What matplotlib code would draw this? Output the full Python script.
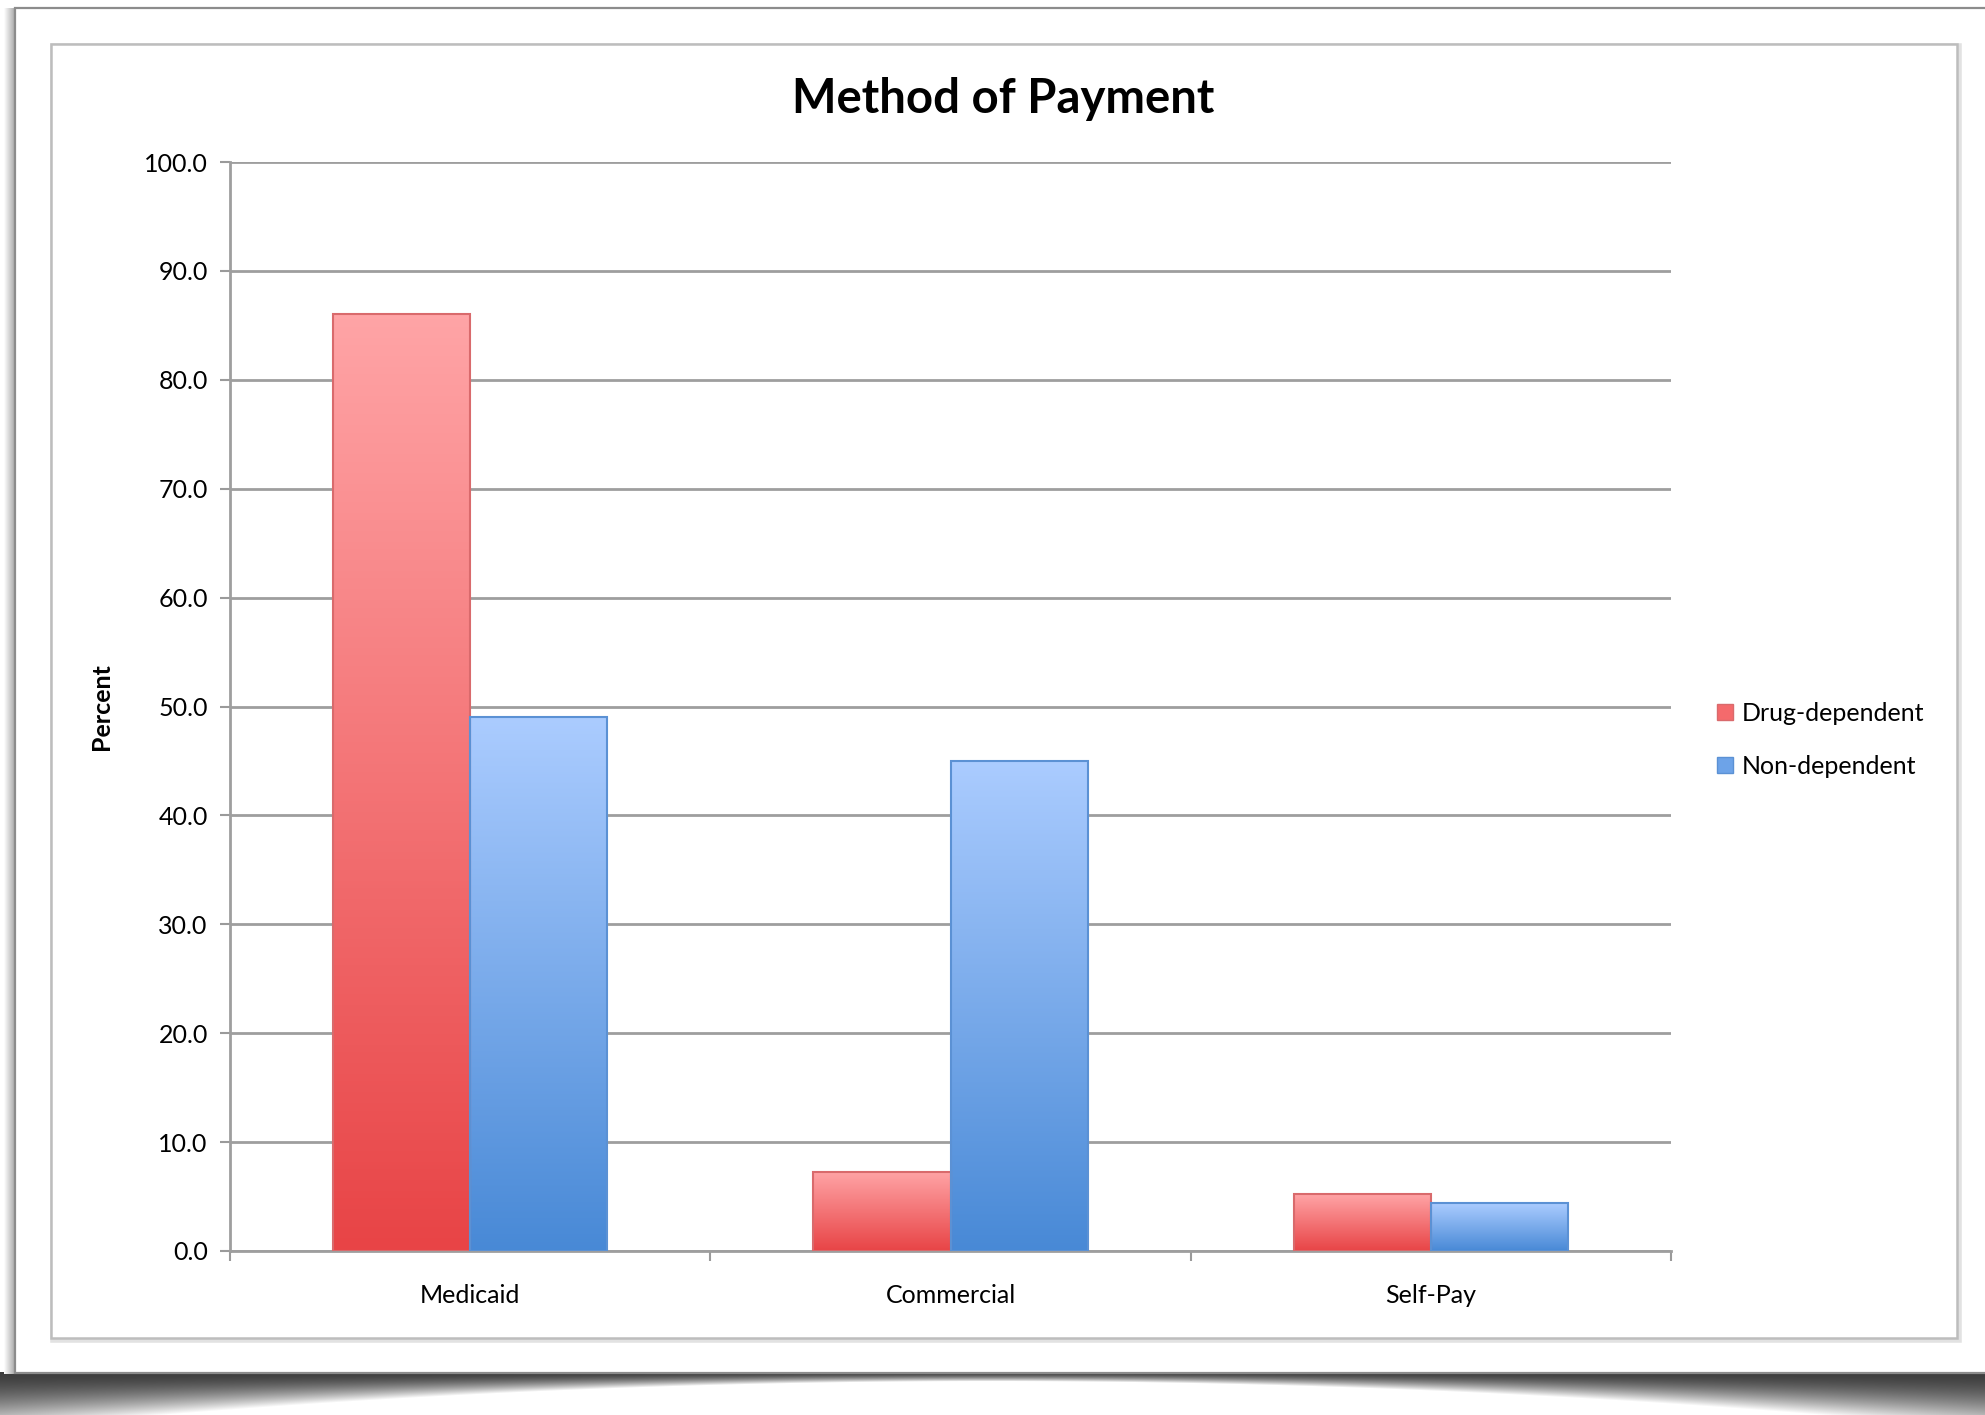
import numpy as np
import matplotlib
matplotlib.use("Agg")
import matplotlib.pyplot as plt
from matplotlib.colors import LinearSegmentedColormap
from matplotlib.patches import Rectangle
from matplotlib.lines import Line2D

categories = ["Medicaid", "Commercial", "Self-Pay"]
drug_dependent = [86.0, 7.3, 5.2]
non_dependent = [49.0, 45.0, 4.4]
series_names = ["Drug-dependent", "Non-dependent"]
y_ticks = [0, 10, 20, 30, 40, 50, 60, 70, 80, 90, 100]

plt.rcParams["font.family"] = ["Lato", "DejaVu Sans"]

W, H = 1985, 1415
fig = plt.figure(figsize=(W / 100, H / 100), dpi=100)
fig.patch.set_facecolor("white")

# background canvas in pixel coordinates for the paper frame and its shadow
bg = fig.add_axes([0, 0, 1, 1], zorder=0)
bg.set_xlim(0, W)
bg.set_ylim(H, 0)
bg.axis("off")

# curled-page shadow: a dark band under the paper, thick at both ends, thin in the middle
top_y = 1372
yy, xx = np.mgrid[top_y:H + 1, 0:W]
t = xx / (W - 1)
depth = 9 + 48 * (2 * t - 1) ** 2
frac = np.clip((yy - top_y) / depth, 0, 1)
val = 0.24 + 0.76 * frac ** 1.6
shadow = np.dstack([val, val, val])
bg.imshow(shadow, extent=[0, W, H + 1, top_y], aspect="auto", zorder=1,
          interpolation="bilinear")

# left edge shading
lcmap = LinearSegmentedColormap.from_list("lsh", ["#ffffff", "#a8a8a8"])
bg.imshow(np.linspace(0, 1, 50).reshape(1, -1), extent=[4, 15, 1374, 8],
          cmap=lcmap, aspect="auto", zorder=1)

# paper
bg.add_patch(Rectangle((15, 8), W - 15 + 5, 1365, facecolor="white",
                       edgecolor="#8c8c8c", linewidth=1.6, zorder=2))
# chart area border with a soft edge
bg.add_patch(Rectangle((53, 46), 1906, 1294, facecolor="none",
                       edgecolor="#e2e2e2", linewidth=4, zorder=3))
bg.add_patch(Rectangle((51, 44), 1906, 1294, facecolor="white",
                       edgecolor="#bdbdbd", linewidth=1.8, zorder=3))

ax = fig.add_axes([230 / W, 1 - 1251 / H, (1671 - 230) / W, (1251 - 162) / H], zorder=2)
ax.set_facecolor("none")

n = len(categories)
width = 1 / 3.5
x = np.arange(n)

red_cmap = LinearSegmentedColormap.from_list("red", ["#e84446", "#ffa4a6"])
blue_cmap = LinearSegmentedColormap.from_list("blue", ["#4889d6", "#abccff"])
vgrad = np.linspace(0, 1, 256).reshape(-1, 1)

for vals, offs, cmap, edge in [(drug_dependent, -width / 2, red_cmap, "#d96a6c"),
                               (non_dependent, width / 2, blue_cmap, "#5b91d4")]:
    bars = ax.bar(x + offs, vals, width, color="none", edgecolor=edge, linewidth=1.5, zorder=4)
    for b in bars:
        x0, w_, h_ = b.get_x(), b.get_width(), b.get_height()
        ax.imshow(vgrad, extent=[x0, x0 + w_, 0, h_], origin="lower", cmap=cmap,
                  aspect="auto", zorder=3, interpolation="bilinear")

ax.set_xlim(-0.5, n - 0.5)
ax.set_ylim(0, 100)
ax.set_yticks(y_ticks)
ax.set_yticklabels([f"{v:.1f}" for v in y_ticks], fontsize=18)
ax.set_xticks(x)
ax.set_xticklabels(categories, fontsize=18)
ax.set_xticks(np.arange(n + 1) - 0.5, minor=True)
ax.tick_params(axis="x", which="major", length=0, pad=24)
ax.tick_params(axis="x", which="minor", length=7, color="#9a9a9a", width=1.5, direction="out")
ax.tick_params(axis="y", length=7, color="#9a9a9a", width=1.5, pad=9)
ax.yaxis.grid(True, color="#9e9e9e", linewidth=2)
ax.set_axisbelow(True)
for s in ["top", "right"]:
    ax.spines[s].set_visible(False)
for s in ["left", "bottom"]:
    ax.spines[s].set_color("#9e9e9e")
    ax.spines[s].set_linewidth(2)

ax.set_ylabel("Percent", fontsize=18, fontweight="bold", labelpad=22)
fig.text(1003 / W, 1 - 99 / H, "Method of Payment", fontsize=34, fontweight="bold",
         ha="center", va="center")

handles = [Line2D([], [], marker="s", linestyle="none", markersize=12,
                  markerfacecolor=c, markeredgecolor=e)
           for c, e in [("#f46a6c", "#d96a6c"), ("#6da3e8", "#5b91d4")]]
fig.legend(handles, series_names, loc="center left", bbox_to_anchor=(1690 / W, 1 - 740 / H),
           frameon=False, fontsize=18, handletextpad=0.15, labelspacing=1.2,
           handlelength=1.0)

fig.savefig("out.png", dpi=100)
